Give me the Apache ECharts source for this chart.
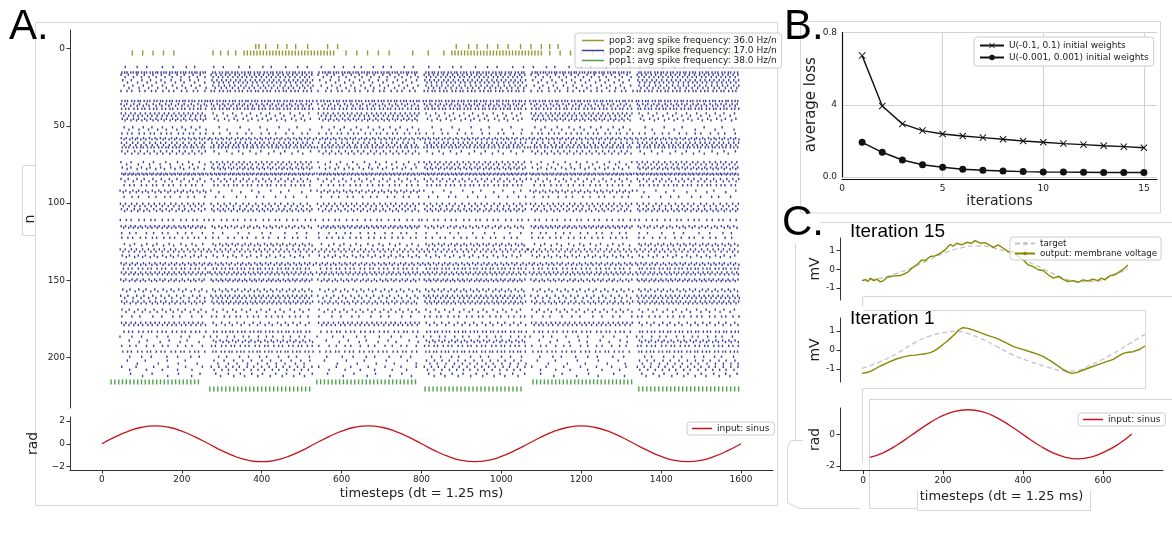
<!DOCTYPE html>
<html>
<head>
<meta charset="utf-8">
<script src="https://cdn.jsdelivr.net/npm/echarts@6/dist/echarts.min.js"></script>
<style>
html, body { margin: 0; padding: 0; background: #fff; }
#chart { width: 1172px; height: 534px; }
</style>
</head>
<body>
<div id="chart"></div>
<script>
// ---------- A: raster + input ----------
const pop3Name = 'pop3: avg spike frequency: 36.0 Hz/n';
const pop2Name = 'pop2: avg spike frequency: 17.0 Hz/n';
const pop1Name = 'pop1: avg spike frequency: 38.0 Hz/n';

// pop3 upper neuron: single spike times
const pop3UpperN = -1.3;
const pop3Upper = [385, 393, 410, 440, 463, 485, 515, 565, 590,
    887, 918, 939, 965, 991, 1017, 1048, 1074, 1100, 1121, 1142,
    1390, 1420, 1445, 1470, 1500, 1530, 1560, 1590];
// pop3 lower neuron: [from, to, spacing]
const pop3LowerN = 2.9;
const pop3Lower = [[76, 180, 26], [278, 340, 19], [356, 580, 8], [611, 720, 27], [778, 860, 39],
    [876, 1100, 8], [1121, 1173, 26], [1200, 1340, 28], [1370, 1595, 8]];
// pop1: two neurons, [from, to, spacing]
const pop1UpperN = 215.8;
const pop1Upper = [[23, 250, 9.5], [538, 790, 9.5], [1079, 1330, 9.5]];
const pop1LowerN = 220.4;
const pop1Lower = [[270, 520, 10], [809, 1058, 10], [1344, 1594, 10]];

// pop2 bands: [neurons in band, spike spacing in each half period of the input (0 = silent)]
const pop2Bands = [
    [[12], [30, 30, 25, 30, 30, 30]],
    [[15.5], [7, 8, 7, 8, 7, 8]],
    [[17, 18.5], [10, 6, 10, 6, 10, 6]],
    [[20.5, 22], [12, 6, 12, 6, 12, 6]],
    [[24, 25.5], [12, 7, 12, 7, 12, 7]],
    [[27.5], [15, 10, 15, 10, 15, 10]],
    [[34], [8, 8, 8, 8, 8, 8]],
    [[36, 37], [8, 7, 8, 7, 8, 7]],
    [[39], [10, 9, 10, 9, 10, 9]],
    [[42, 43.5], [6, 12, 6, 12, 6, 12]],
    [[45.5, 46.5], [7, 12, 7, 12, 7, 12]],
    [[51, 52.5], [12, 25, 14, 25, 14, 25]],
    [[55], [14, 20, 14, 20, 14, 20]],
    [[58, 58.8], [7, 7, 7, 7, 7, 7]],
    [[61, 62.5], [7, 6, 7, 6, 7, 6]],
    [[64], [9, 9, 9, 9, 9, 9]],
    [[66.5, 68], [8, 15, 8, 15, 8, 15]],
    [[73.5, 75], [14, 7, 14, 7, 14, 7]],
    [[77, 78], [12, 7, 12, 7, 12, 7]],
    [[81, 81.5], [5, 5, 5, 5, 5, 5]],
    [[84.5, 86], [10, 8, 10, 8, 10, 8]],
    [[88.5], [14, 12, 14, 12, 14, 12]],
    [[92, 93], [8, 25, 8, 25, 8, 25]],
    [[96], [20, 25, 20, 25, 20, 25]],
    [[100.5, 102], [7, 8, 7, 8, 7, 8]],
    [[104, 105.2], [8, 7, 8, 7, 8, 7]],
    [[111], [15, 15, 15, 15, 15, 15]],
    [[115, 116], [6, 8, 6, 8, 6, 8]],
    [[119.5], [20, 30, 20, 30, 20, 30]],
    [[122.5], [15, 18, 15, 18, 15, 18]],
    [[126.5, 127.5], [14, 8, 14, 8, 14, 8]],
    [[130, 131.5], [7, 7, 7, 7, 7, 7]],
    [[134, 135], [10, 12, 10, 12, 10, 12]],
    [[139, 140], [7, 7, 7, 7, 7, 7]],
    [[142.5], [12, 10, 12, 10, 12, 10]],
    [[145, 146.2], [6, 6, 6, 6, 6, 6]],
    [[149.5, 150.5], [7, 6, 7, 6, 7, 6]],
    [[156, 157.2], [10, 8, 10, 8, 10, 8]],
    [[160, 161.5], [10, 6, 10, 6, 10, 6]],
    [[163.8, 165], [7, 6, 7, 6, 7, 6]],
    [[169, 170.5], [10, 12, 10, 12, 10, 12]],
    [[173.5], [25, 15, 25, 15, 25, 15]],
    [[177.5, 179], [6, 10, 6, 10, 6, 10]],
    [[183.3], [12, 10, 12, 10, 12, 10]],
    [[186.5], [30, 20, 30, 20, 30, 20]],
    [[189, 190], [25, 8, 25, 8, 25, 8]],
    [[192.5], [20, 12, 20, 12, 20, 12]],
    [[196.2], [12, 10, 12, 10, 12, 10]],
    [[199.5], [30, 25, 30, 25, 30, 25]],
    [[202, 204], [25, 12, 25, 10, 25, 10]],
    [[206, 208], [20, 9, 20, 9, 20, 9]],
    [[210.5, 212], [30, 15, 30, 15, 30, 15]]
];
const pop2Start = 45;
const halfPeriod = 1600 / 6;
const spacingWobble = [1, 0.8, 1.3, 0.9, 1.1, 0.7, 1.2];

// input sinus (panel A)
const sinAT = [0, 33, 67, 100, 133, 167, 200, 233, 267, 300, 333, 367, 400, 433, 467, 500,
    533, 567, 600, 633, 667, 700, 733, 767, 800, 833, 867, 900, 933, 967, 1000, 1033,
    1067, 1100, 1133, 1167, 1200, 1233, 1267, 1300, 1333, 1367, 1400, 1433, 1467, 1500, 1533, 1567, 1600];
const sinAV = [0, 0.60, 1.11, 1.45, 1.57, 1.45, 1.11, 0.60, 0, -0.60, -1.11, -1.45, -1.57, -1.45, -1.11, -0.60,
    0, 0.60, 1.11, 1.45, 1.57, 1.45, 1.11, 0.60, 0, -0.60, -1.11, -1.45, -1.57, -1.45, -1.11, -0.60,
    0, 0.60, 1.11, 1.45, 1.57, 1.45, 1.11, 0.60, 0, -0.60, -1.11, -1.45, -1.57, -1.45, -1.11, -0.60, 0];

// ---------- B: loss ----------
const iterations = [1, 2, 3, 4, 5, 6, 7, 8, 9, 10, 11, 12, 13, 14, 15];
const lossWide = [0.672, 0.393, 0.294, 0.257, 0.238, 0.227, 0.218, 0.209, 0.199, 0.192, 0.185, 0.179, 0.173, 0.168, 0.162];
const lossNarrow = [0.192, 0.137, 0.094, 0.068, 0.054, 0.043, 0.037, 0.033, 0.030, 0.028, 0.027, 0.026, 0.025, 0.025, 0.025];
const lossTickLabels = ['0.0', '4', '0.8'];

// ---------- C: iterations ----------
const it15T = [0, 8, 14, 20, 28, 36, 44, 52, 60, 68, 80, 92, 104, 112, 120, 128, 136, 144, 152, 164,
    176, 188, 200, 212, 220, 228, 240, 252, 264, 272, 284, 296, 308, 316, 328, 340, 352, 364, 376, 388,
    400, 412, 424, 436, 448, 460, 472, 484, 496, 508, 520, 532, 544, 556, 568, 576, 584, 596, 608, 620, 632, 640];
const it15Out = [-0.63, -0.54, -0.66, -0.48, -0.61, -0.54, -0.68, -0.61, -0.45, -0.39, -0.36, -0.34, -0.22, -0.13, 0.05, 0.18, 0.32, 0.50, 0.46, 0.68,
    0.71, 0.85, 1.03, 1.33, 1.24, 1.39, 1.30, 1.44, 1.39, 1.53, 1.39, 1.42, 1.28, 1.17, 1.30, 1.12, 0.94, 0.94, 0.68, 0.50,
    0.23, 0.14, -0.03, -0.07, -0.30, -0.48, -0.39, -0.54, -0.66, -0.61, -0.70, -0.57, -0.63, -0.54, -0.61, -0.48, -0.57, -0.36, -0.30, -0.13, 0.05, 0.23];
const it15TargetT = [0, 40, 80, 120, 160, 200, 240, 280, 320, 360, 400, 440, 480, 520, 560, 600, 640];
const it15Target = [-0.60, -0.50, -0.25, 0.08, 0.48, 0.88, 1.15, 1.25, 1.12, 0.82, 0.40, -0.02, -0.42, -0.66, -0.67, -0.35, 0.0];

const it1T = [0, 12, 24, 44, 64, 84, 100, 116, 128, 140, 152, 164, 176, 188, 200, 212, 224, 232, 242, 252,
    260, 272, 284, 300, 324, 344, 364, 384, 404, 420, 436, 452, 468, 480, 492, 504, 516, 532, 548, 564,
    584, 604, 616, 628, 640, 652, 668, 680];
const it1Out = [-1.23, -1.18, -1.08, -0.84, -0.64, -0.46, -0.36, -0.28, -0.27, -0.23, -0.20, -0.14, -0.02, 0.18, 0.38, 0.61, 0.85, 1.05, 1.17, 1.15,
    1.10, 1.02, 0.91, 0.78, 0.61, 0.40, 0.18, 0.05, -0.09, -0.20, -0.35, -0.56, -0.79, -0.98, -1.14, -1.23, -1.19, -1.05, -0.92, -0.79,
    -0.64, -0.49, -0.32, -0.18, -0.12, -0.09, 0.04, 0.21];
const it1TargetT = [0, 44, 84, 124, 164, 204, 228, 252, 284, 324, 364, 404, 444, 484, 508, 540, 572, 604, 644, 680];
const it1Target = [-0.96, -0.61, -0.18, 0.35, 0.74, 0.94, 0.98, 0.88, 0.61, 0.18, -0.27, -0.61, -0.88, -1.09, -1.11, -0.88, -0.56, -0.18, 0.35, 0.82];

const sinCT = [17, 50, 85, 120, 155, 190, 225, 262, 300, 335, 370, 405, 440, 475, 510, 537, 570, 605, 640, 672];
const sinCV = [-1.46, -1.17, -0.68, -0.08, 0.53, 1.06, 1.41, 1.55, 1.41, 1.04, 0.51, -0.10, -0.69, -1.18, -1.47, -1.55, -1.44, -1.10, -0.60, 0.02];

// ---------- helpers ----------
const FONT = 'DejaVu Sans';
const TXT = '#222';

function zip(xs, ys) {
    return xs.map((x, i) => [x, ys[i]]);
}

function segSpikes(n, segs) {
    let out = [];
    segs.forEach(([a, b, s]) => {
        for (let t = a; t <= b + 0.01; t += s) out.push([t, n]);
    });
    return out;
}

function bandSpikes(bands) {
    let out = [];
    bands.forEach(([ns, steps]) => {
        steps.forEach((s, k) => {
            if (!s) return;
            // a short pause only where the firing rate changes between half periods
            let gapIn = (k > 0 && steps[k - 1] === s) ? 0 : 5;
            let gapOut = (k < steps.length - 1 && steps[k + 1] === s) ? 0 : 4;
            let from = Math.max(pop2Start, k * halfPeriod + gapIn);
            let to = (k + 1) * halfPeriod - gapOut;
            let i = 0;
            let t = from + ((ns[0] * 37) % 100) / 100 * s;
            while (t < to) {
                out.push([t, ns[i % ns.length]]);
                t += s * spacingWobble[(i + k) % spacingWobble.length];
                i++;
            }
        });
    });
    return out;
}

function hiddenAxis(grid, min, max) {
    return { type: 'value', gridIndex: grid, min, max, show: false };
}

function valAxis(grid, min, max, ticks, extra) {
    let ax = {
        type: 'value', gridIndex: grid, min, max,
        axisLine: { show: true, onZero: false, lineStyle: { color: '#333', width: 1 } },
        axisTick: { show: true, length: 3.5, customValues: ticks, lineStyle: { color: '#333' } },
        axisLabel: {
            show: true, customValues: ticks, fontFamily: FONT, fontSize: 9, color: TXT, margin: 5,
            formatter: v => String(v)
        },
        splitLine: { show: false },
        nameTextStyle: { fontFamily: FONT, fontSize: 14, color: TXT }
    };
    return Object.assign(ax, extra || {});
}

let myChart = echarts.init(document.getElementById('chart'), null, { renderer: 'canvas' });

const frameStyle = { fill: 'none', stroke: '#d8d8d8', lineWidth: 1 };
function frameLine(points) {
    return { type: 'polyline', shape: { points }, style: frameStyle, silent: true, z: -5 };
}

let option = {
    animation: false,
    backgroundColor: '#fff',
    grid: [
        { left: 70, top: 30, width: 703, height: 378 },     // A raster
        { left: 70, top: 417, width: 703, height: 53 },     // A input
        { left: 842, top: 32.5, width: 315, height: 144.5 },// B
        { left: 840, top: 238, width: 290, height: 62 },    // C iteration 15
        { left: 840, top: 318, width: 305, height: 64 },    // C iteration 1
        { left: 840, top: 408, width: 323, height: 62.7 }   // C input
    ],
    xAxis: [
        hiddenAxis(0, -80, 1680),
        valAxis(1, -80, 1680, [0, 200, 400, 600, 800, 1000, 1200, 1400, 1600], {
            name: 'timesteps (dt = 1.25 ms)', nameLocation: 'middle', nameGap: 17,
            nameTextStyle: { fontFamily: FONT, fontSize: 13, color: TXT }
        }),
        valAxis(2, 0, 15.65, [0, 5, 10, 15], {
            interval: 5, offset: 2,
            axisLine: { show: true, onZero: false, lineStyle: { color: '#111', width: 1.2 } },
            axisTick: { show: false, customValues: [0, 5, 10, 15] },
            splitLine: { show: true, lineStyle: { color: '#d2d2d2', width: 1 } },
            name: 'iterations', nameLocation: 'middle', nameGap: 6,
            nameTextStyle: { fontFamily: FONT, fontSize: 14, color: TXT }
        }),
        hiddenAxis(3, -53, 645),
        hiddenAxis(4, -53, 680),
        valAxis(5, -57.5, 750, [0, 200, 400, 600], {
            name: 'timesteps (dt = 1.25 ms)', nameLocation: 'middle', nameGap: 19,
            nameTextStyle: { fontFamily: FONT, fontSize: 13, color: TXT }
        })
    ],
    yAxis: [
        valAxis(0, -12, 232.7, [0, 50, 100, 150, 200], {
            inverse: true, name: 'n', nameLocation: 'middle', nameGap: 24
        }),
        valAxis(1, -2.3, 2.35, [-2, 0, 2], {
            name: 'rad', nameLocation: 'middle', nameGap: 21,
            axisLabel: {
                customValues: [-2, 0, 2], fontFamily: FONT, fontSize: 9, color: TXT, margin: 5,
                formatter: v => String(v).replace('-', '\u2212')
            }
        }),
        valAxis(2, 0, 0.8, [0, 0.4, 0.8], {
            interval: 0.4,
            axisLine: { show: true, onZero: false, lineStyle: { color: '#111', width: 1.2 } },
            axisTick: { show: false, customValues: [0, 0.4, 0.8] },
            axisLabel: {
                customValues: [0, 0.4, 0.8], fontFamily: FONT, fontSize: 9, color: TXT, margin: 5,
                formatter: v => lossTickLabels[Math.round(v / 0.4)]
            },
            splitLine: { show: true, lineStyle: { color: '#d2d2d2', width: 1 } },
            name: 'average loss', nameLocation: 'middle', nameGap: 17,
            nameTextStyle: { fontFamily: FONT, fontSize: 15, color: TXT }
        }),
        valAxis(3, -1.65, 1.67, [-1, 0, 1], { name: 'mV', nameLocation: 'middle', nameGap: 17 }),
        valAxis(4, -1.68, 1.68, [-1, 0, 1], { name: 'mV', nameLocation: 'middle', nameGap: 17 }),
        valAxis(5, -2.3, 1.66, [-2, 0], { name: 'rad', nameLocation: 'middle', nameGap: 17 })
    ],
    legend: [
        {
            data: [pop3Name, pop2Name, pop1Name],
            left: 575, top: 33, orient: 'vertical', icon: 'rect',
            itemWidth: 22, itemHeight: 1.5, itemGap: 1,
            textStyle: { fontFamily: FONT, fontSize: 9, color: TXT },
            backgroundColor: 'rgba(255,255,255,0.8)', borderColor: '#cccccc', borderWidth: 1,
            borderRadius: 3, padding: [3, 5, 3, 7]
        },
        {
            data: ['input: sinus'],
            left: 687, top: 422, icon: 'rect', itemWidth: 20, itemHeight: 1.5,
            textStyle: { fontFamily: FONT, fontSize: 9, color: TXT },
            backgroundColor: '#fff', borderColor: '#cccccc', borderWidth: 1,
            borderRadius: 3, padding: [2, 5, 2, 5]
        },
        {
            data: ['U(-0.1, 0.1) initial weights', 'U(-0.001, 0.001) initial weights'],
            left: 974, top: 37, orient: 'vertical', itemWidth: 24, itemHeight: 7, itemGap: 3,
            textStyle: { fontFamily: FONT, fontSize: 9, color: TXT },
            backgroundColor: '#fff', borderColor: '#cccccc', borderWidth: 1,
            borderRadius: 3, padding: [4, 5, 4, 5]
        },
        {
            data: ['target', 'output: membrane voltage'],
            left: 1010, top: 237, orient: 'vertical', itemWidth: 20, itemHeight: 2, itemGap: 1,
            textStyle: { fontFamily: FONT, fontSize: 8.7, color: TXT },
            backgroundColor: 'rgba(255,255,255,0.8)', borderColor: '#cccccc', borderWidth: 1,
            borderRadius: 3, padding: [2, 4, 2, 4]
        },
        {
            data: ['input: sinus'],
            left: 1078, top: 413, icon: 'rect', itemWidth: 20, itemHeight: 1.5,
            textStyle: { fontFamily: FONT, fontSize: 9, color: TXT },
            backgroundColor: '#fff', borderColor: '#cccccc', borderWidth: 1,
            borderRadius: 3, padding: [2, 5, 2, 5]
        }
    ],
    series: [
        {
            name: pop3Name, type: 'scatter', xAxisIndex: 0, yAxisIndex: 0,
            symbol: 'rect', symbolSize: [1.4, 5], itemStyle: { color: '#808000' }, silent: true,
            data: pop3Upper.map(t => [t, pop3UpperN]).concat(segSpikes(pop3LowerN, pop3Lower))
        },
        {
            name: pop2Name, type: 'scatter', xAxisIndex: 0, yAxisIndex: 0,
            symbol: 'rect', symbolSize: [1.4, 2.4], itemStyle: { color: '#101088' }, silent: true,
            data: bandSpikes(pop2Bands)
        },
        {
            name: pop1Name, type: 'scatter', xAxisIndex: 0, yAxisIndex: 0,
            symbol: 'rect', symbolSize: [1.4, 5], itemStyle: { color: '#1f8c1f' }, silent: true,
            data: segSpikes(pop1UpperN, pop1Upper).concat(segSpikes(pop1LowerN, pop1Lower))
        },
        {
            name: 'input: sinus', type: 'line', xAxisIndex: 1, yAxisIndex: 1,
            data: zip(sinAT, sinAV), smooth: true, showSymbol: false,
            lineStyle: { color: '#c4161c', width: 1.3 }, itemStyle: { color: '#c4161c' }
        },
        {
            name: 'U(-0.1, 0.1) initial weights', type: 'line', xAxisIndex: 2, yAxisIndex: 2,
            data: zip(iterations, lossWide),
            symbol: 'path://M0,1L1,0L5,4L9,0L10,1L6,5L10,9L9,10L5,6L1,10L0,9L4,5Z', symbolSize: 7,
            lineStyle: { color: '#111', width: 1.4 }, itemStyle: { color: '#111' }
        },
        {
            name: 'U(-0.001, 0.001) initial weights', type: 'line', xAxisIndex: 2, yAxisIndex: 2,
            data: zip(iterations, lossNarrow),
            symbol: 'circle', symbolSize: 7,
            lineStyle: { color: '#111', width: 1.4 }, itemStyle: { color: '#111' }
        },
        {
            name: 'target', type: 'line', xAxisIndex: 3, yAxisIndex: 3,
            data: zip(it15TargetT, it15Target), smooth: true, showSymbol: false,
            lineStyle: { color: '#c4c4c4', width: 1.3, type: [5, 3] }, itemStyle: { color: '#c4c4c4' }
        },
        {
            name: 'output: membrane voltage', type: 'line', xAxisIndex: 3, yAxisIndex: 3,
            data: zip(it15T, it15Out), showSymbol: false,
            lineStyle: { color: '#858a00', width: 1.4 }, itemStyle: { color: '#858a00' }
        },
        {
            name: 'target', type: 'line', xAxisIndex: 4, yAxisIndex: 4,
            data: zip(it1TargetT, it1Target), smooth: true, showSymbol: false,
            lineStyle: { color: '#c4c4c4', width: 1.3, type: [5, 3] }, itemStyle: { color: '#c4c4c4' }
        },
        {
            name: 'output: membrane voltage', type: 'line', xAxisIndex: 4, yAxisIndex: 4,
            data: zip(it1T, it1Out), showSymbol: false,
            lineStyle: { color: '#858a00', width: 1.4 }, itemStyle: { color: '#858a00' }
        },
        {
            name: 'input: sinus', type: 'line', xAxisIndex: 5, yAxisIndex: 5,
            data: zip(sinCT, sinCV), smooth: true, showSymbol: false,
            lineStyle: { color: '#c4161c', width: 1.3 }, itemStyle: { color: '#c4161c' }
        }
    ],
    graphic: [
        // collage frames
        { type: 'rect', shape: { x: 35.5, y: 22.5, width: 742, height: 483 }, style: frameStyle, silent: true, z: -5 },
        { type: 'rect', shape: { x: 22.5, y: 165.5, width: 13, height: 70 }, style: { fill: '#fff', stroke: '#d8d8d8', lineWidth: 1 }, silent: true, z: -4 },
        { type: 'rect', shape: { x: 800.5, y: 21.5, width: 360, height: 191.5 }, style: frameStyle, silent: true, z: -5 },
        frameLine([[820, 222.5], [1172, 222.5]]),
        frameLine([[795.5, 243], [795.5, 440]]),
        frameLine([[862.5, 307], [862.5, 296.5], [1172, 296.5]]),
        frameLine([[863, 310.5], [1145.5, 310.5], [1145.5, 388.5], [862.5, 388.5], [862.5, 463]]),
        frameLine([[869.5, 508.5], [869.5, 399.5], [1172, 399.5]]),
        frameLine([[869.5, 508.5], [917, 508.5]]),
        frameLine([[917.5, 490], [917.5, 510.5], [1090.5, 510.5], [1090.5, 490]]),
        frameLine([[803, 440.5], [790.5, 440.5], [787.5, 447], [787.5, 503], [800, 508.5], [860, 508.5]]),
        // panel letters
        { type: 'text', left: 9, top: 6, style: { text: 'A.', font: '42px "Liberation Sans"', fill: '#000' } },
        { type: 'text', left: 784, top: 6, style: { text: 'B.', font: '42px "Liberation Sans"', fill: '#000' } },
        { type: 'text', left: 782, top: 202, style: { text: 'C.', font: '42px "Liberation Sans"', fill: '#000' } },
        { type: 'text', left: 850, top: 222, style: { text: 'Iteration 15', font: '19px "Liberation Sans"', fill: '#000' } },
        { type: 'text', left: 850, top: 309, style: { text: 'Iteration 1', font: '19px "Liberation Sans"', fill: '#000' } }
    ]
};

myChart.setOption(option);
</script>
</body>
</html>
